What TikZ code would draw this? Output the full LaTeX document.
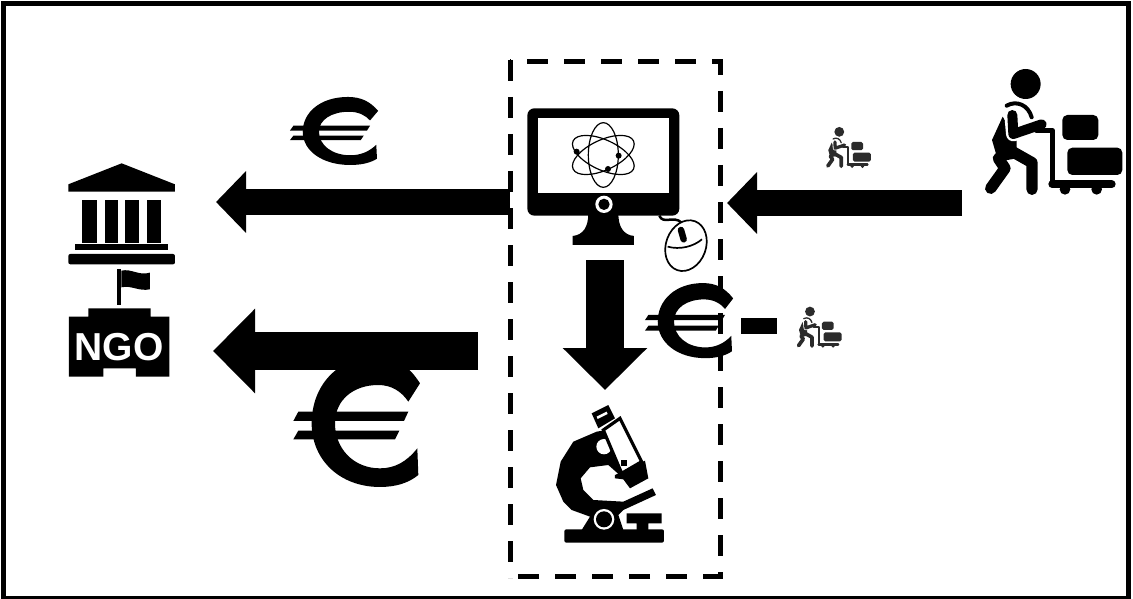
\documentclass[tikz,border=0pt]{standalone}
\usepackage{fontspec}
\setmainfont{Liberation Sans}
\usetikzlibrary{arrows.meta}
\definecolor{SmallGrey}{HTML}{2B2B2B}
\tikzset{
	thinarrow/.style={line width=26pt,-{Triangle[length=30pt,width=60pt]}},
	fatarrow/.style={line width=38pt,-{Triangle[length=42pt,width=82pt]}},
	% Euro sign, drawn in a box of about 380 by 390
	euro/.pic={
		\fill (420,70) .. controls (385,15) and (345,-10) .. (290,-10) .. controls (170,-10) and (95,80) .. (95,190) .. controls (95,300) and (180,381) .. (300,381) .. controls (345,381) and (385,370) .. (415,345) -- (412,265) .. controls (380,305) and (345,325) .. (300,325) .. controls (220,325) and (165,265) .. (165,190) .. controls (165,120) and (220,75) .. (295,75) .. controls (335,75) and (365,95) .. (385,125) -- cycle;
		\fill (40,183) -- (55,155) -- (385,155) -- (372,183) -- cycle;
		\fill (40,238) -- (55,212) -- (358,212) -- (345,238) -- cycle;
	},
	% Man with a cart, #1 is the scale
	porter/.pic={
		\begin{scope}[scale=#1]
			\fill (197,72) circle (45);
			\fill (128,170) -- (96,240) -- (115,305) -- (170,295) -- (170,240) -- cycle;
			\draw[line width={34*#1*1pt},line cap=round,line join=round] (115,295) -- (135,325) -- (92,385);
			\draw[line width={34*#1*1pt},line cap=round,line join=round] (140,265) -- (216,308) -- (216,388);
			\draw[white,line width={44*#1*1pt},line cap=round,line join=round] (155,165) -- (160,222) -- (225,205);
			\draw[line width={30*#1*1pt},line cap=round,line join=round] (157,165) -- (160,222) -- (245,193);
			\draw[line width={12*#1*1pt},line cap=round] (140,137) .. controls (170,120) and (205,135) .. (215,172);
			\draw[line width={16*#1*1pt},line cap=round,line join=round] (230,212) -- (277,212) -- (277,375);
			\draw[line width={24*#1*1pt},line cap=round] (277,373) -- (455,373);
			\fill (315,388) circle (16);
			\fill (410,388) circle (16);
			\fill[rounded corners={15*#1*1pt}] (307,165) rectangle (415,240);
			\fill[rounded corners={15*#1*1pt}] (322,263) rectangle (487,345);
		\end{scope}
	}
}
\begin{document}
\begin{tikzpicture}[x=1pt,y=-1pt]
	\useasboundingbox (0,0) rectangle (1133,599);
	\draw[line width=5pt] (3.5,3.5) rectangle (1128,598);

	% Dashed box
	\draw[line width=5pt,dash pattern=on 21pt off 16pt,dash phase=20pt] (510,62) -- (720,62) -- (720,576) -- (510,576);
	\draw[line width=5pt,dash pattern=on 21pt off 16pt] (510,60) -- (510,578);

	% Arrows
	\coordinate (ComputerLeft) at (510,202);
	\coordinate (BankRight) at (216,202);
	\coordinate (PorterLeft) at (962,203);
	\coordinate (ComputerRight) at (727,203);
	\coordinate (BoxLeft) at (478,351);
	\coordinate (NgoRight) at (213,351);
	\coordinate (ComputerBottom) at (605,260);
	\coordinate (MicroscopeTop) at (605,390);
	\draw[thinarrow] (ComputerLeft) -- (BankRight);
	\draw[thinarrow] (PorterLeft) -- (ComputerRight);
	\draw[fatarrow] (BoxLeft) -- (NgoRight);
	\draw[fatarrow] (ComputerBottom) -- (MicroscopeTop);

	% Euros, minus and men
	\pic (EuroTop) at (280.7,98.7) [xscale=.232,yscale=.174] {euro};
	\pic (EuroMiddle) at (635.7,285) [xscale=.232,yscale=.192] {euro};
	\pic (EuroBottom) at (280,360) [xscale=.3333,yscale=.3333] {euro};
	\fill (741,318) rectangle (777,334);
	\pic (PorterBig) at (960,60) {porter=.3333};
	\pic[color=SmallGrey] (PorterTop) at (817.8,124) {porter=.109};
	\pic[color=SmallGrey] (PorterMiddle) at (788.5,303.7) {porter=.109};

	% Computer
	\begin{scope}[shift={(500,50)},scale=.3333]
		\fill[rounded corners=7pt] (82,175) rectangle (538,497);
		\fill[white] (113,205) rectangle (507,430);
		\fill[white] (312,463) circle (26);
		\fill (312,463) circle (17);
		\fill (265,490) .. controls (265,530) and (250,555) .. (218,558) -- (218,585) -- (402,585) -- (402,558) .. controls (370,555) and (355,530) .. (355,490) -- cycle;
		\draw[line width=1.2pt] (310,315) ellipse [x radius=45,y radius=97];
		\draw[line width=1.2pt,rotate around={25:(310,315)}] (310,315) ellipse [x radius=100,y radius=45];
		\draw[line width=1.2pt,rotate around={-25:(310,315)}] (310,315) ellipse [x radius=100,y radius=45];
		\fill (230,305) circle (9);
		\fill (356,317) circle (9);
		\fill (324,357) circle (9);
		% Mouse
		\draw[line width=2.5pt] (478,497) .. controls (490,525) and (520,495) .. (545,518);
		\draw[line width=1.7pt,fill=white,rotate around={-20:(558,587)}] (558,587) ellipse [x radius=60,y radius=78];
		\draw[line width=1.7pt] (503,590) .. controls (540,600) and (580,590) .. (606,568);
		\draw[line width=6.5pt,line cap=round] (543,540) -- (551,568);
	\end{scope}

	% Microscope
	\begin{scope}[shift={(540,390)},scale=.3333]
		\fill[rounded corners=2pt] (73,418) rectangle (372,458);
		\fill (170,125) -- (100,155) -- (62,215) -- (48,285) -- (70,335) -- (95,360) -- (150,380) -- (125,420) -- (250,420) -- (235,375) -- (250,360) -- (348,315) -- (338,295) -- (250,335) -- (160,330) -- (130,300) -- (122,265) -- (150,232) -- (205,225) -- (250,265) -- (250,200) -- (200,120) -- cycle;
		\fill[white] (192,170) circle (23);
		\fill[white] (192,388) circle (31);
		\fill (192,388) circle (24);
		\draw[line width=3.2pt,fill=white] (190,120) -- (240,85) -- (305,215) -- (245,250) -- cycle;
		\fill (155,70) -- (205,45) -- (225,85) -- (175,115) -- cycle;
		\fill[white] (170,80) -- (200,65) -- (203,72) -- (173,87) -- cycle;
		\fill (225,255) -- (315,212) -- (325,265) -- (270,295) -- (250,268) -- (225,265) -- cycle;
		\fill (243,210) rectangle (260,227);
		\fill (260,370) -- (365,370) -- (365,400) -- (325,400) -- (325,420) -- (290,420) -- (290,400) -- (260,400) -- cycle;
	\end{scope}

	% Bank and NGO
	\begin{scope}[shift={(50,150)},scale=.3333]
		\fill (215,40) -- (375,103) -- (375,125) -- (55,125) -- (55,103) -- cycle;
		\fill (95,150) rectangle (140,280);
		\fill (165,150) rectangle (205,280);
		\fill (225,150) rectangle (268,280);
		\fill (290,150) rectangle (332,280);
		\fill (75,282) rectangle (353,300);
		\fill[rounded corners=2pt] (55,312) rectangle (375,343);
		\fill (202,357) rectangle (214,465);
		\fill (214,362) .. controls (245,355) and (265,378) .. (300,368) -- (300,418) .. controls (265,425) and (245,405) .. (214,412) -- cycle;
		\fill (115,475) -- (302,475) -- (302,500) -- (358,500) -- (358,680) -- (258,680) -- (258,655) -- (160,655) -- (160,680) -- (57,680) -- (57,500) -- (115,500) -- cycle;
		\node[white,inner sep=0pt,font=\bfseries\fontsize{39}{39}\selectfont] (NgoLabel) at (207,590) {NGO};
	\end{scope}
\end{tikzpicture}
\end{document}
